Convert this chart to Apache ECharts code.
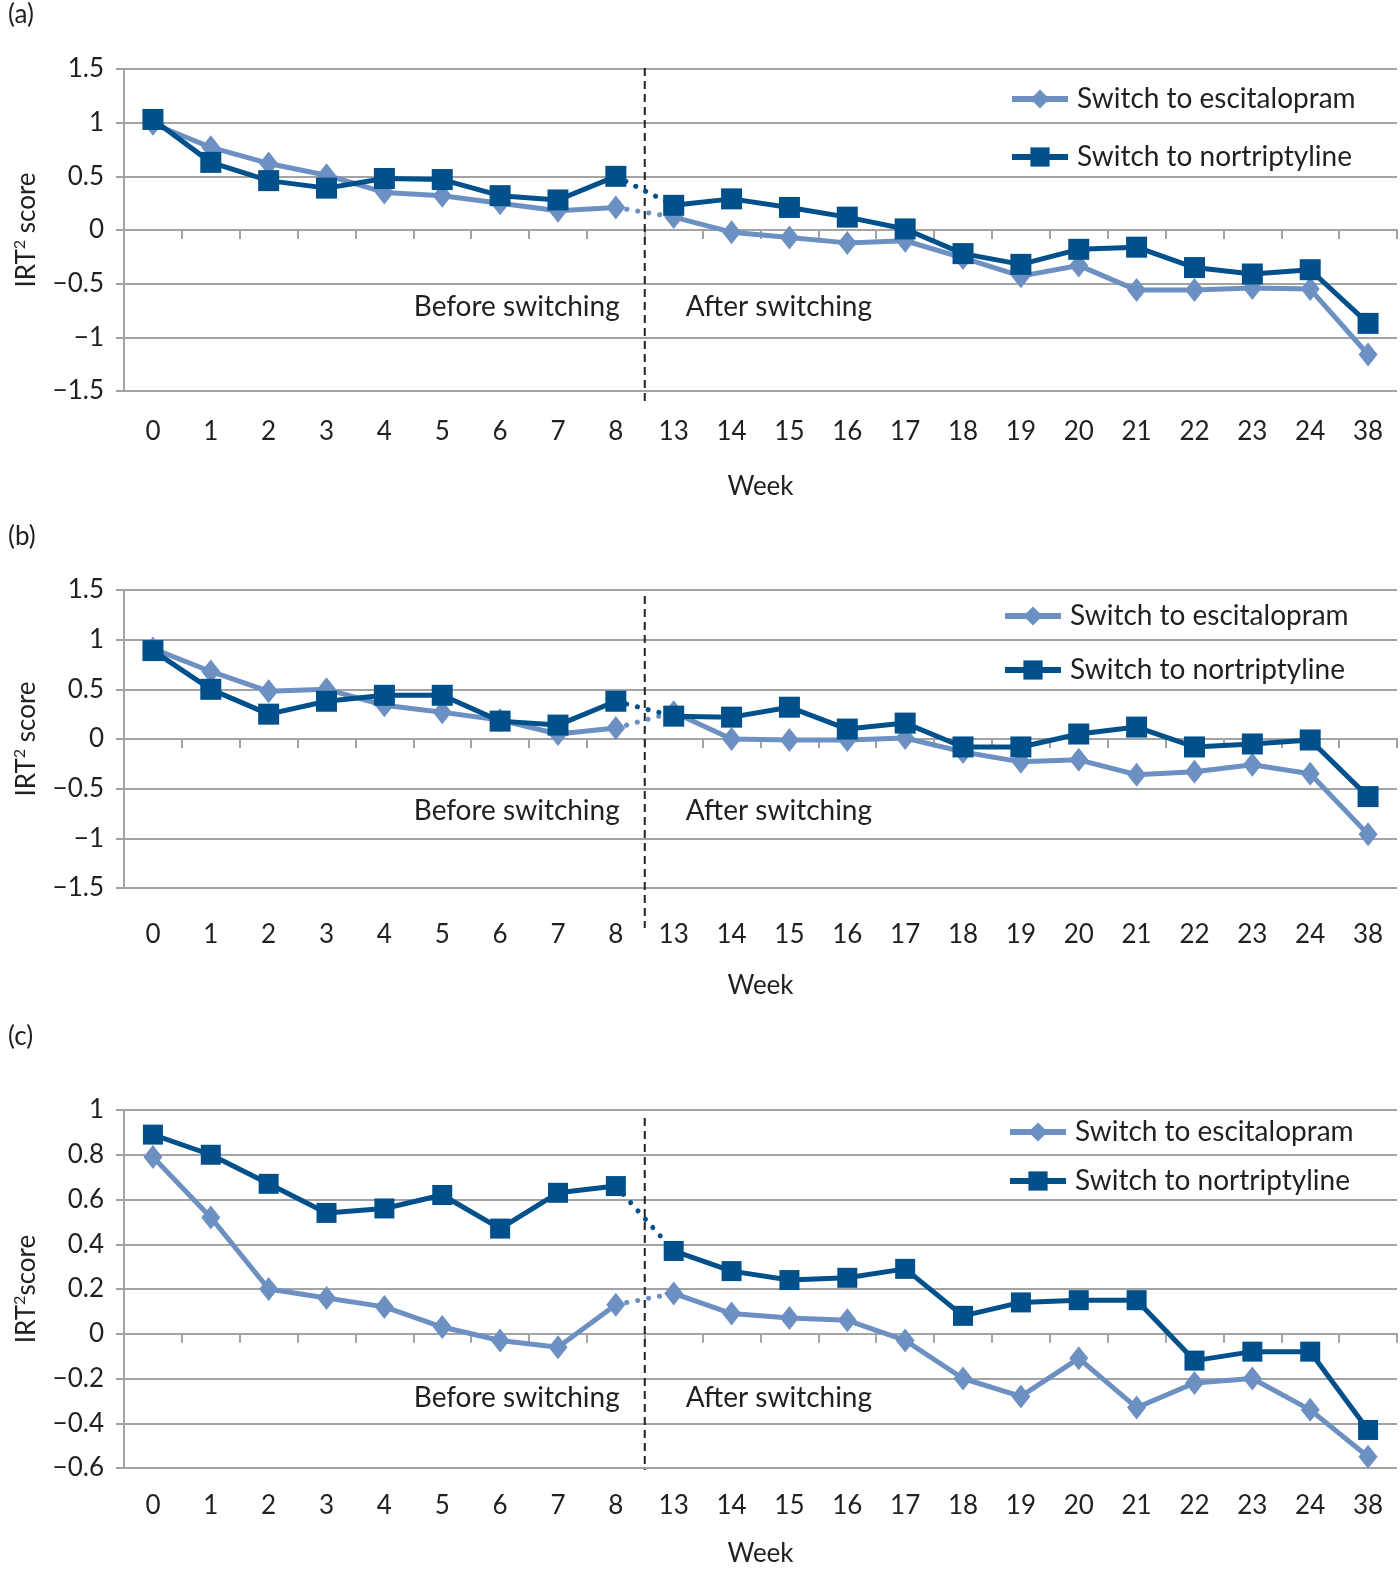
<!DOCTYPE html>
<html>
<head>
<meta charset="utf-8">
<script src="https://cdn.jsdelivr.net/npm/echarts@6/dist/echarts.min.js"></script>
<style>
html,body{margin:0;padding:0;background:#fff;}
#chart{width:1400px;height:1570px;}
</style>
</head>
<body>
<div id="chart"></div>
<script>
// ---------- data ----------
const weeks = ['0','1','2','3','4','5','6','7','8','13','14','15','16','17','18','19','20','21','22','23','24','38'];
const panelLabels = ['(a)', '(b)', '(c)'];
const seriesNames = ['Switch to escitalopram', 'Switch to nortriptyline'];
const yTicksA = [-1.5, -1, -0.5, 0, 0.5, 1, 1.5];
const yTicksB = [-1.5, -1, -0.5, 0, 0.5, 1, 1.5];
const yTicksC = [-0.6, -0.4, -0.2, 0, 0.2, 0.4, 0.6, 0.8, 1];

const escA  = [0.99, 0.77, 0.62, 0.51, 0.35, 0.32, 0.25, 0.18, 0.21, 0.12, -0.02, -0.07, -0.12, -0.10, -0.26, -0.43, -0.33, -0.56, -0.56, -0.54, -0.55, -1.16];
const norA  = [1.03, 0.63, 0.46, 0.39, 0.48, 0.47, 0.32, 0.28, 0.50, 0.23, 0.29, 0.21, 0.12, 0.01, -0.22, -0.32, -0.18, -0.16, -0.35, -0.41, -0.37, -0.87];
const escB  = [0.91, 0.68, 0.48, 0.50, 0.34, 0.27, 0.19, 0.05, 0.11, 0.27, 0.00, -0.01, -0.01, 0.01, -0.13, -0.23, -0.21, -0.36, -0.33, -0.26, -0.35, -0.96];
const norB  = [0.89, 0.50, 0.25, 0.38, 0.44, 0.44, 0.18, 0.14, 0.38, 0.23, 0.22, 0.32, 0.10, 0.16, -0.08, -0.08, 0.05, 0.12, -0.08, -0.05, -0.01, -0.58];
const escC  = [0.79, 0.52, 0.20, 0.16, 0.12, 0.03, -0.03, -0.06, 0.13, 0.18, 0.09, 0.07, 0.06, -0.03, -0.20, -0.28, -0.11, -0.33, -0.22, -0.20, -0.34, -0.55];
const norC  = [0.89, 0.80, 0.67, 0.54, 0.56, 0.62, 0.47, 0.63, 0.66, 0.37, 0.28, 0.24, 0.25, 0.29, 0.08, 0.14, 0.15, 0.15, -0.12, -0.08, -0.08, -0.43];

const yNames = ['IRT{sup|2} score', 'IRT{sup|2} score', 'IRT{sup|2}score'];
const beforeText = 'Before switching';
const afterText = 'After switching';
const xName = 'Week';

// ---------- styling ----------
const LIGHT = '#6c90c1';
const DARK = '#00508c';
const GRIDC = '#a3a3a3';
const TXT = '#231f20';
const FONT = 'Lato';
const breakIdx = 8; // last pre-switch index

const panels = [
  {esc: escA, nor: norA, ticks: yTicksA, top: 69, height: 322, legendLeft: 1004, legendTop: 80, legendGap: 30, dashTop: 68, dashBot: 405, textY: 307, labelY: 15, labelMargin: 28, nameGap: 83},
  {esc: escB, nor: norB, ticks: yTicksB, top: 590, height: 298, legendLeft: 997, legendTop: 597, legendGap: 26, dashTop: 596, dashBot: 928, textY: 811, labelY: 537, labelMargin: 34, nameGap: 85},
  {esc: escC, nor: norC, ticks: yTicksC, top: 1110, height: 358, legendLeft: 1002, legendTop: 1113, legendGap: 21, dashTop: 1118, dashBot: 1470, textY: 1398, labelY: 1037, labelMargin: 25, nameGap: 73}
];

function seg(arr, from, to) {
  return arr.map((v, i) => (i >= from && i <= to) ? v : '-');
}
function fmt(v) {
  const r = Math.round(v * 10) / 10;
  const s = String(Math.abs(r));
  return r < 0 ? '\u2212' + s : s;
}

const grids = [], xAxes = [], yAxes = [], series = [], legends = [];
panels.forEach((p, k) => {
  grids.push({left: 124, right: 3, top: p.top, height: p.height});
  const tmin = p.ticks[0], tmax = p.ticks[p.ticks.length - 1];
  const step = p.ticks[1] - p.ticks[0];
  xAxes.push({
    type: 'category', gridIndex: k, data: weeks, boundaryGap: true, position: 'bottom',
    axisLine: {show: false, onZero: false}, axisTick: {show: false},
    axisLabel: {color: TXT, fontSize: 26, fontFamily: FONT, margin: p.labelMargin, interval: 0},
    name: xName, nameLocation: 'middle', nameGap: p.nameGap,
    nameTextStyle: {color: TXT, fontSize: 26, fontFamily: FONT}
  });
  xAxes.push({
    type: 'category', gridIndex: k, data: weeks, boundaryGap: true, position: 'top',
    axisLine: {show: true, onZero: true, lineStyle: {color: GRIDC, width: 2}},
    axisTick: {show: true, inside: true, length: 9, lineStyle: {color: GRIDC, width: 2}},
    axisLabel: {show: false}
  });
  yAxes.push({
    type: 'value', gridIndex: k, min: tmin, max: tmax, interval: step,
    axisLine: {show: true, lineStyle: {color: GRIDC, width: 2}},
    axisTick: {show: true, length: 8, lineStyle: {color: GRIDC, width: 2}},
    splitLine: {show: true, lineStyle: {color: GRIDC, width: 2}},
    axisLabel: {color: TXT, fontSize: 26, fontFamily: FONT, margin: 20, formatter: fmt},
    name: yNames[k], nameLocation: 'middle', nameRotate: 90, nameGap: 82,
    nameTextStyle: {color: TXT, fontSize: 26, fontFamily: FONT,
      rich: {sup: {fontSize: 16, fontFamily: FONT, color: TXT, verticalAlign: 'top', padding: [0, 0, 14, 0]}}}
  });
  const xi = k * 2;
  const defs = [
    {name: seriesNames[0], data: p.esc, color: LIGHT, symbol: 'diamond', size: [19, 24]},
    {name: seriesNames[1], data: p.nor, color: DARK, symbol: 'rect', size: k === 2 ? 20 : 21}
  ];
  defs.forEach(d => {
    const common = {
      type: 'line', xAxisIndex: xi, yAxisIndex: k, name: d.name,
      symbol: d.symbol, symbolSize: d.size, showAllSymbol: true,
      itemStyle: {color: d.color}, animation: false, z: d.color === DARK ? 4 : 3
    };
    series.push(Object.assign({}, common, {
      data: seg(d.data, 0, breakIdx),
      lineStyle: {color: d.color, width: 5}
    }));
    series.push(Object.assign({}, common, {
      data: seg(d.data, breakIdx + 1, weeks.length - 1),
      lineStyle: {color: d.color, width: 5}
    }));
    series.push(Object.assign({}, common, {
      data: seg(d.data, breakIdx, breakIdx + 1),
      symbol: 'none', z: 2,
      lineStyle: {color: d.color, width: 5, type: [0.1, 11], cap: 'round'}
    }));
  });
  legends.push({
    data: seriesNames, orient: 'vertical', left: p.legendLeft, top: p.legendTop,
    itemWidth: 56, itemHeight: 24, itemGap: p.legendGap, selectedMode: false,
    lineStyle: {width: 6},
    textStyle: {color: TXT, fontSize: 28, fontFamily: FONT, padding: [0, 0, 0, 4]}
  });
});

const chart = echarts.init(document.getElementById('chart'), null, {renderer: 'canvas'});
chart.setOption({
  backgroundColor: '#fff',
  animation: false,
  grid: grids, xAxis: xAxes, yAxis: yAxes, series: series, legend: legends
});

const graphics = [];
panels.forEach((p, k) => {
  const a = chart.convertToPixel({xAxisIndex: k * 2}, weeks[breakIdx]);
  const b = chart.convertToPixel({xAxisIndex: k * 2}, weeks[breakIdx + 1]);
  const mid = (a + b) / 2;
  graphics.push({
    type: 'line', shape: {x1: mid, y1: p.dashTop, x2: mid, y2: p.dashBot},
    style: {stroke: '#222', lineWidth: 2, lineDash: [8, 5]}, z: 1
  });
  graphics.push({
    type: 'text', x: mid - 25, y: p.textY,
    style: {text: beforeText, fill: TXT, font: '28px ' + FONT, textAlign: 'right', textVerticalAlign: 'middle'}
  });
  graphics.push({
    type: 'text', x: mid + 41, y: p.textY,
    style: {text: afterText, fill: TXT, font: '28px ' + FONT, textAlign: 'left', textVerticalAlign: 'middle'}
  });
  graphics.push({
    type: 'text', x: 8, y: p.labelY,
    style: {text: panelLabels[k], fill: TXT, font: '26px ' + FONT, textAlign: 'left', textVerticalAlign: 'middle'}
  });
});
chart.setOption({graphic: graphics});
</script>
</body>
</html>
